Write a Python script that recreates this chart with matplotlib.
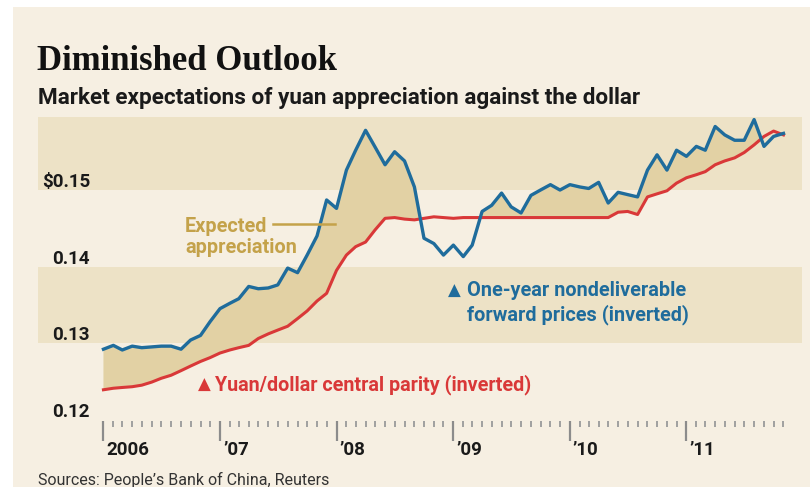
import matplotlib
matplotlib.use("Agg")
import matplotlib.pyplot as plt
import matplotlib.dates as mdates
import matplotlib.transforms as mtrans
import matplotlib.ticker as mticker
import numpy as np
import pandas as pd

# ---- data ----
months = pd.date_range("2006-01-01", periods=71, freq="MS")

ndf_inverted = [
    0.1292, 0.1297, 0.1291, 0.1296, 0.1294, 0.1295, 0.1296, 0.1296, 0.1292, 0.1304, 0.1310, 0.1328,
    0.1345, 0.1352, 0.1358, 0.1374, 0.1371, 0.1372, 0.1376, 0.1398, 0.1392, 0.1415, 0.1440, 0.1487,
    0.1476, 0.1526, 0.1552, 0.1578, 0.1556, 0.1533, 0.1550, 0.1538, 0.1504, 0.1437, 0.1430, 0.1415,
    0.1428, 0.1413, 0.1428, 0.1472, 0.1480, 0.1496, 0.1478, 0.1470, 0.1493, 0.1500, 0.1507, 0.1500,
    0.1507, 0.1504, 0.1502, 0.1510, 0.1483, 0.1497, 0.1494, 0.1491, 0.1526, 0.1546, 0.1526, 0.1552,
    0.1544, 0.1557, 0.1552, 0.1583, 0.1572, 0.1565, 0.1565, 0.1592, 0.1557, 0.1570, 0.1574,
]

parity_inverted = [
    0.1239, 0.1241, 0.1242, 0.1243, 0.1245, 0.1249, 0.1254, 0.1258, 0.1264, 0.1270, 0.1276, 0.1281,
    0.1287, 0.1291, 0.1294, 0.1297, 0.1306, 0.1312, 0.1317, 0.1322, 0.1332, 0.1342, 0.1355, 0.1365,
    0.1395, 0.1415, 0.1426, 0.1432, 0.1448, 0.1463, 0.1464, 0.1462, 0.1461, 0.1463, 0.1465, 0.1464,
    0.1463, 0.1464, 0.1464, 0.1464, 0.1464, 0.1464, 0.1464, 0.1464, 0.1464, 0.1464, 0.1464, 0.1464,
    0.1464, 0.1464, 0.1464, 0.1464, 0.1464, 0.1471, 0.1472, 0.1468, 0.1491, 0.1495, 0.1499, 0.1509,
    0.1516, 0.1520, 0.1524, 0.1533, 0.1538, 0.1542, 0.1549, 0.1559, 0.1570, 0.1577, 0.1572,
]

y_ticks = [0.12, 0.13, 0.14, 0.15]
y_tick_labels = ["0.12", "0.13", "0.14", "$0.15"]
x_tick_labels = ["2006", "\u201907", "\u201908", "\u201909", "\u201910", "\u201911"]
bands = [(0.13, 0.14), (0.15, 0.16)]

# ---- style ----
BG = "#f6efe2"
BAND = "#ede2c6"
FILL = "#e2d1a4"
BLUE = "#1f6c9c"
RED = "#d93838"
GOLD = "#c4a24a"
SANS = ["Roboto", "DejaVu Sans"]

W, H = 810, 487
fig = plt.figure(figsize=(W / 100, H / 100), dpi=100, facecolor="white")

# cream panel
fig.patches.append(plt.Rectangle((13 / W, 0), 1 - 13 / W, 1 - 7 / H,
                                 transform=fig.transFigure, facecolor=BG,
                                 edgecolor="none", zorder=-10))

ax_left, ax_right = 38 / W, 802 / W
ax_top, ax_bot = 1 - 117 / H, 1 - 421 / H
ax = fig.add_axes([ax_left, ax_bot, ax_right - ax_left, ax_top - ax_bot])
ax.set_facecolor("none")
for s in ax.spines.values():
    s.set_visible(False)

x = mdates.date2num(months)
blue = np.array(ndf_inverted)
red = np.array(parity_inverted)

for lo, hi in bands:
    ax.axhspan(lo, hi, color=BAND, lw=0, zorder=0)

ax.fill_between(x, red, blue, where=blue >= red, interpolate=True,
                color=FILL, lw=0, zorder=1)
ax.plot(x, red, color=RED, lw=2.2, zorder=3, solid_joinstyle="round")
ax.plot(x, blue, color=BLUE, lw=2.4, zorder=4, solid_joinstyle="round")

ax.set_xlim(mdates.datestr2num("2005-06-10"), mdates.datestr2num("2011-12-29"))
ax.set_ylim(0.11982, 0.15954)

# x ticks
ax.set_xticks(mdates.date2num(pd.date_range("2006-01-01", periods=6, freq="YS")))
ax.set_xticklabels(x_tick_labels)
ax.xaxis.set_minor_locator(mticker.FixedLocator(x))
ax.tick_params(axis="x", which="major", length=14.4, width=1.6, color="#8c8c8c",
               pad=0, labelsize=13.5)
ax.tick_params(axis="x", which="minor", length=4, width=1.3, color="#9a9a9a")
shift = mtrans.ScaledTranslation(3 / 100, 0, fig.dpi_scale_trans)
for lab in ax.get_xticklabels():
    lab.set_horizontalalignment("left")
    lab.set_fontfamily(SANS)
    lab.set_fontweight("bold")
    lab.set_color("#1a1a1a")
    lab.set_transform(lab.get_transform() + shift)

# y labels
ax.set_yticks([])
ylab_tr = mtrans.blended_transform_factory(fig.transFigure, ax.transData)
for v, lab in zip(y_ticks, y_tick_labels):
    ax.text(90 / W, v, lab, transform=ylab_tr + mtrans.ScaledTranslation(0, 3 / 100, fig.dpi_scale_trans),
            ha="right", va="baseline", fontsize=13.5, fontweight="bold",
            family=SANS, color="#1a1a1a", zorder=5)

# titles
fig.text(37 / W, 1 - 70 / H, "Diminished Outlook", fontsize=25, fontweight="bold",
         family=["Liberation Serif", "DejaVu Serif"], color="#111111", va="baseline")
fig.text(38 / W, 1 - 104 / H, "Market expectations of yuan appreciation against the dollar",
         fontsize=16.2, fontweight="bold", family=SANS, color="#1a1a1a", va="baseline")

# annotations
fig.text(185 / W, 1 - 232 / H, "Expected", fontsize=14.3, fontweight="bold",
         family=SANS, color=GOLD, va="baseline")
fig.text(185 / W, 1 - 253 / H, "appreciation", fontsize=14.3, fontweight="bold",
         family=SANS, color=GOLD, va="baseline")
fig.add_artist(plt.Line2D([273 / W, 335 / W], [1 - 224 / H, 1 - 224 / H],
                          transform=fig.transFigure, color=GOLD, lw=1.8))

fig.text(448 / W, 1 - 296 / H, "\u25B2", fontsize=12, color=BLUE, va="baseline",
         family=["DejaVu Sans"])
fig.text(467 / W, 1 - 296 / H, "One-year nondeliverable", fontsize=14.3, fontweight="bold",
         family=SANS, color=BLUE, va="baseline")
fig.text(467 / W, 1 - 320 / H, "forward prices (inverted)", fontsize=14.3, fontweight="bold",
         family=SANS, color=BLUE, va="baseline")

fig.text(198 / W, 1 - 390 / H, "\u25B2", fontsize=12, color=RED, va="baseline",
         family=["DejaVu Sans"])
fig.text(215 / W, 1 - 390 / H, "Yuan/dollar central parity (inverted)", fontsize=14.2,
         fontweight="bold", family=SANS, color=RED, va="baseline")

fig.text(38 / W, 1 - 485 / H, "Sources: People\u2019s Bank of China, Reuters", fontsize=11.5,
         family=SANS, color="#333333", va="baseline")

fig.savefig("out.png", dpi=100, facecolor="white")
